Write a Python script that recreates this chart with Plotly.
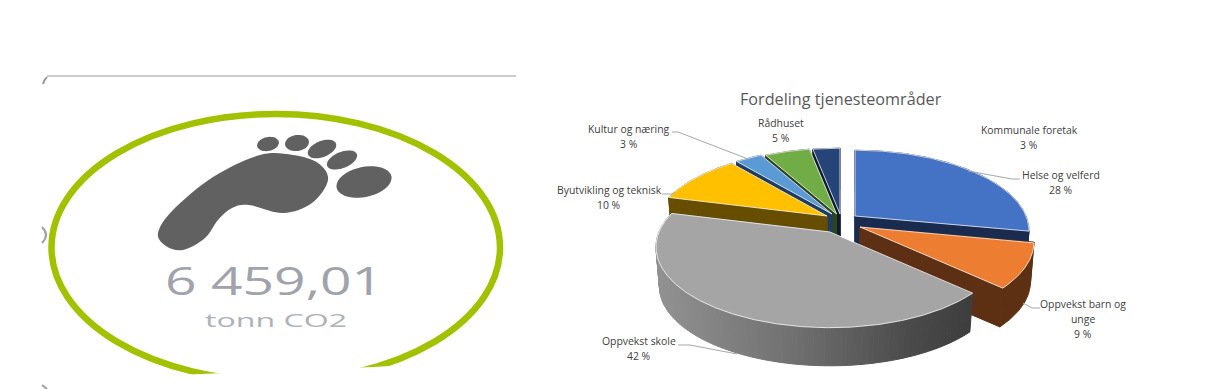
import numpy as np
import plotly.graph_objects as go

# ---- data ----
categories = ["Helse og velferd", "Oppvekst barn og unge", "Oppvekst skole",
              "Byutvikling og teknisk", "Kultur og næring", "Rådhuset", "Kommunale foretak"]
shares = [28, 9, 42, 10, 3, 5, 3]
label_lines = [["Helse og velferd"], ["Oppvekst barn og", "unge"], ["Oppvekst skole"],
               ["Byutvikling og teknisk"], ["Kultur og næring"], ["Rådhuset"], ["Kommunale foretak"]]
title_text = "Fordeling tjenesteområder"
kpi_value = "6 459,01"
kpi_unit = "tonn CO2"

# ---- styles / layout geometry ----
top_colors = ["#4472c4", "#ed7d31", "#a5a5a5", "#ffc000", "#5b9bd5", "#70ad47", "#264478"]
wall_colors = ["#1a2b50", "#5e3013", "#707070", "#664d00", "#1f3d5e", "#2d451c", "#0f1b30"]
apexes = [(855, 216), (860, 227), (830, 232), (827, 216), (832, 214), (836.5, 214), (840, 214)]
label_pos = [(1061, 175), (1083, 304), (639, 341), (609, 190), (629, 129), (781, 123), (1029, 130)]
LINE_STEP = 15
leaders = [[(1020, 179), (1012, 179), (968, 171)],
           [(1040, 308), (1032, 308), (1023, 303)],
           [(678, 345), (690, 345), (737, 354)],
           [(662, 194), (672, 194), (675, 192)],
           [(672, 132), (678, 132), (748, 159)]]
RX, RY, K = 171, 78, 0.185
DEPTH, BOTTOM_SCALE = 40, 0.98
draw_order = [6, 5, 4, 3, 0, 1, 2]

W, H = 1207, 389
fig = go.Figure()


def rim(theta_deg, apex):
    th = np.radians(theta_deg)
    f = 1 / (1 + K * np.cos(th))
    return apex[0] + RX * np.sin(th) * f, apex[1] - RY * np.cos(th) * f


def lower(x, y, apex):
    return apex[0] + BOTTOM_SCALE * (x - apex[0]), apex[1] + BOTTOM_SCALE * (y - apex[1]) + DEPTH


def poly(xs, ys, fill, line=None, width=0):
    fig.add_trace(go.Scatter(
        x=list(xs) + [xs[0]], y=list(ys) + [ys[0]], mode="lines", fill="toself", fillcolor=fill,
        line=dict(color=line or fill, width=width if line else 1),
        hoverinfo="skip", showlegend=False))


def ramp_color(t):
    v = int(np.interp(min(max(t, 0), 1), [0, 0.45, 0.8, 1], [146, 112, 76, 62]))
    return f"rgb({v},{v},{v})"


cum = np.concatenate([[0], np.cumsum(shares)]) / sum(shares) * 360

for i in draw_order:
    a0, a1 = cum[i], cum[i + 1]
    ap = apexes[i]
    ths = np.linspace(a0, a1, max(int(a1 - a0) * 2, 6))
    tx, ty = zip(*[rim(t, ap) for t in ths])
    bx, by = zip(*[lower(x, y, ap) for x, y in zip(tx, ty)])
    abx, aby = lower(ap[0], ap[1], ap)
    if categories[i] != "Oppvekst skole":
        poly([ap[0], tx[0], bx[0], abx], [ap[1], ty[0], by[0], aby], wall_colors[i])
    poly([ap[0], tx[-1], bx[-1], abx], [ap[1], ty[-1], by[-1], aby], wall_colors[i])
    if categories[i] == "Oppvekst skole":
        xmin, xmax = min(tx), max(tx)
        step = 3
        for j in range(0, len(ths) - 1, step):
            k = min(j + step, len(ths) - 1)
            sx = list(tx[j:k + 1]) + list(bx[j:k + 1])[::-1]
            sy = list(ty[j:k + 1]) + list(by[j:k + 1])[::-1]
            poly(sx, sy, ramp_color((tx[j] - xmin) / (xmax - xmin)))
    else:
        poly(list(tx) + list(bx[::-1]), list(ty) + list(by[::-1]), wall_colors[i])
    poly([ap[0]] + list(tx), [ap[1]] + list(ty), top_colors[i], "rgba(255,255,255,0.75)", 1)

for pts in leaders:
    fig.add_trace(go.Scatter(x=[p[0] for p in pts], y=[p[1] for p in pts], mode="lines",
                             line=dict(color="#a6a6a6", width=1), hoverinfo="skip", showlegend=False))

annotations = [dict(x=841, y=98.5, text=title_text, showarrow=False,
                    font=dict(family="Open Sans", size=16.2, color="#595959"))]
for lines, val, pos in zip(label_lines, shares, label_pos):
    for n, txt in enumerate(lines + [f"{val} %"]):
        annotations.append(dict(x=pos[0], y=pos[1] + n * LINE_STEP, text=txt, showarrow=False,
                                font=dict(family="Open Sans", size=10.4, color="#404040")))
annotations.append(dict(x=274, y=280, text=kpi_value, showarrow=False, name="kpi",
                        font=dict(family="Open Sans", size=38, color="#a0a3ab")))
annotations.append(dict(x=276, y=320, text=kpi_unit, showarrow=False, name="unit",
                        font=dict(family="Open Sans", size=19, color="#aeb2b8")))


# ---- footprint + ring decoration ----
def smooth_closed(pts):
    n = len(pts)
    d = f"M{pts[0][0]},{pts[0][1]} "
    for i in range(n):
        p0, p1, p2, p3 = pts[i - 1], pts[i], pts[(i + 1) % n], pts[(i + 2) % n]
        c1 = (p1[0] + (p2[0] - p0[0]) / 6, p1[1] + (p2[1] - p0[1]) / 6)
        c2 = (p2[0] - (p3[0] - p1[0]) / 6, p2[1] - (p3[1] - p1[1]) / 6)
        d += f"C{c1[0]:.1f},{c1[1]:.1f} {c2[0]:.1f},{c2[1]:.1f} {p2[0]},{p2[1]} "
    return d + "Z"


def tilted(cx, cy, rx, ry, deg):
    t = np.linspace(0, 2 * np.pi, 40, endpoint=False)
    r = np.radians(deg)
    xs = cx + rx * np.cos(t) * np.cos(r) - ry * np.sin(t) * np.sin(r)
    ys = cy + rx * np.cos(t) * np.sin(r) + ry * np.sin(t) * np.cos(r)
    return "M" + " L".join(f"{x:.1f},{y:.1f}" for x, y in zip(xs, ys)) + " Z"


sole = [(158, 233), (166, 246), (183, 250), (205, 238), (218, 220), (232, 208), (249, 205),
        (283, 213), (312, 203), (328, 180), (318, 163), (293, 155), (260, 155), (213, 177), (173, 210)]
toes = [(268, 144, 11, 7, -12), (297, 143, 12, 8, -8), (322, 149, 15, 8, -22),
        (342, 160, 16, 8, -22), (364, 182, 28, 15, -12)]
foot = "#616161"
shapes = [
    dict(type="circle", xref="x", yref="y", x0=51.5, x1=500, y0=114, y1=381,
         line=dict(color="#a2c100", width=6.5), fillcolor="rgba(0,0,0,0)", layer="below"),
    dict(type="path", xref="x", yref="y", path="M190,374.5 L200,374 L373,367 L390,366 L390,389 L190,389 Z",
         line=dict(width=0), fillcolor="white", layer="below"),
    dict(type="line", xref="x", yref="y", x0=47, x1=516, y0=76, y1=76,
         line=dict(color="#999999", width=1)),
    dict(type="path", xref="x", yref="y", path="M47,77 Q44,80 43,84",
         line=dict(color="#999999", width=2)),
    dict(type="path", xref="x", yref="y", path="M42,227 Q50,235 42,243",
         line=dict(color="#a0a0a0", width=2)),
    dict(type="path", xref="x", yref="y", path="M42,385 L47,389",
         line=dict(color="#a0a0a0", width=2)),
    dict(type="path", xref="x", yref="y", path=smooth_closed(sole),
         fillcolor=foot, line=dict(width=0)),
]
for cx, cy, rx, ry, deg in toes:
    shapes.append(dict(type="path", xref="x", yref="y", path=tilted(cx, cy, rx, ry, deg),
                       fillcolor=foot, line=dict(width=0)))

fig.update_layout(
    width=W, height=H, margin=dict(l=0, r=0, t=0, b=0), autosize=False,
    paper_bgcolor="white", plot_bgcolor="white", showlegend=False,
    xaxis=dict(range=[0, W], visible=False, fixedrange=True),
    yaxis=dict(range=[H, 0], visible=False, fixedrange=True),
    annotations=annotations, shapes=shapes,
)
# The KPI text in the reference is a horizontally stretched picture: widen the real text to match.
post = """
document.body.style.margin='0';document.body.style.overflow='hidden';
var gd=document.getElementById('{plot_id}');
function stretch(){
  gd.querySelectorAll('.annotation-text').forEach(function(t){
    var s=t.textContent, w=null;
    if(s.indexOf('459,01')>=0) w=218;
    if(s.indexOf('tonn CO2')>=0) w=142;
    if(w){t.setAttribute('textLength',w);t.setAttribute('lengthAdjust','spacingAndGlyphs');}
  });
}
stretch();setTimeout(stretch,50);
"""
fig.write_html("out.html", config={"displayModeBar": False}, post_script=post)
